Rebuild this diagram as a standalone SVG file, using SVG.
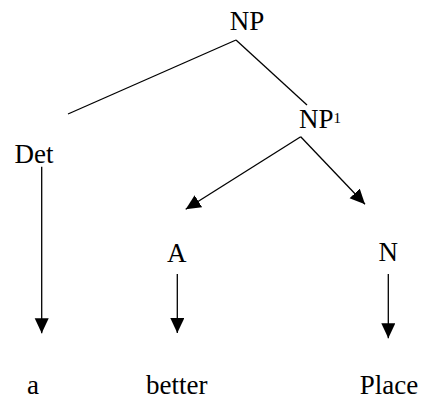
<svg xmlns="http://www.w3.org/2000/svg" width="422" height="399" viewBox="0 0 422 399">
<style>
text{font-family:'Liberation Serif',serif;font-size:27px;fill:#000}
.e{stroke:#000;stroke-width:1.3;fill:none}
.a{marker-end:url(#ah)}
</style>
<defs>
<marker id="ah" markerUnits="userSpaceOnUse" markerWidth="16" markerHeight="15" refX="15" refY="7" orient="auto">
<path d="M0,0 L15,7 L0,14 z" fill="#000"/>
</marker>
</defs>
<rect width="422" height="399" fill="#fff"/>
<g id="connectors">
<line class="e" x1="236" y1="40" x2="68" y2="114"/>
<line class="e" x1="236" y1="40" x2="307" y2="105"/>
<line class="e a" x1="300.7" y1="136.7" x2="185.7" y2="209.3"/>
<line class="e a" x1="300.7" y1="136.7" x2="365" y2="204.3"/>
<line class="e a" x1="41.7" y1="166.7" x2="41.7" y2="333.3"/>
<line class="e a" x1="177.3" y1="274" x2="177.3" y2="333"/>
<line class="e a" x1="388.3" y1="274" x2="388.3" y2="338.3"/>
</g>
<g id="NP"><text x="247" y="30" text-anchor="middle">NP</text></g>
<g id="NP1"><text x="299" y="128">NP<tspan font-size="15" dy="-5">1</tspan></text></g>
<g id="Det"><text x="34" y="163" text-anchor="middle">Det</text></g>
<g id="A"><text x="176.7" y="261.5" text-anchor="middle">A</text></g>
<g id="N"><text x="388.3" y="261" text-anchor="middle">N</text></g>
<g id="a"><text x="33" y="394" text-anchor="middle">a</text></g>
<g id="better"><text x="176.7" y="394" text-anchor="middle">better</text></g>
<g id="Place"><text x="389" y="394" text-anchor="middle">Place</text></g>
</svg>
